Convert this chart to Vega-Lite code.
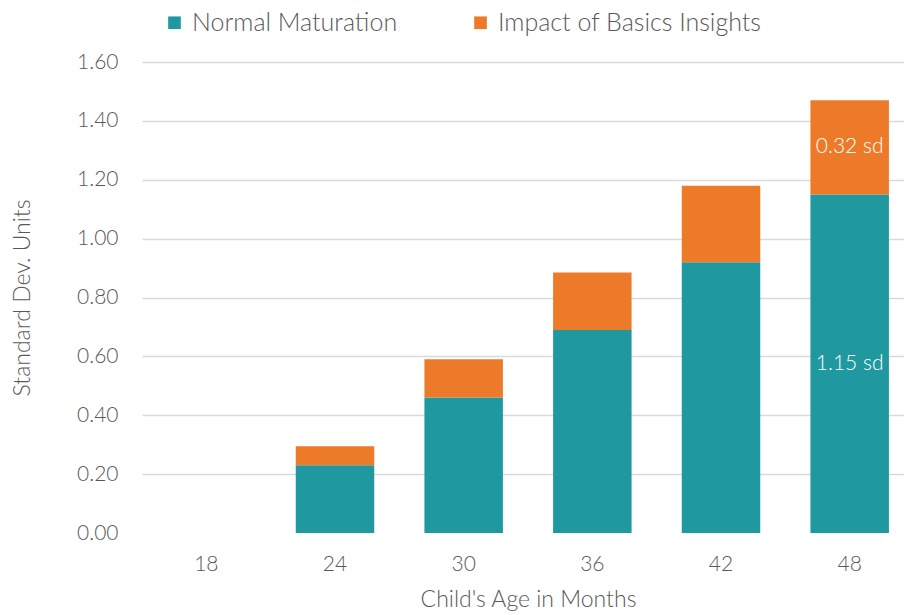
{
  "$schema": "https://vega.github.io/schema/vega-lite/v6.json",
  "autosize": "none",
  "width": 772,
  "height": 471,
  "padding": {"left": 142, "top": 62, "right": 0, "bottom": 82},
  "background": "white",
  "config": {
    "view": {"stroke": null},
    "font": "Lato",
    "axis": {"labelColor": "#595959", "titleColor": "#595959", "labelFont": "Lato", "titleFont": "Lato", "titleFontWeight": 300, "labelFontWeight": 300},
    "legend": {"labelColor": "#595959", "labelFont": "Lato", "labelFontWeight": 300}
  },
  "data": {
    "values": [
      {"age": "24", "series": "Normal Maturation", "value": 0.23, "label": ""},
      {"age": "24", "series": "Impact of Basics Insights", "value": 0.065, "label": ""},
      {"age": "30", "series": "Normal Maturation", "value": 0.46, "label": ""},
      {"age": "30", "series": "Impact of Basics Insights", "value": 0.13, "label": ""},
      {"age": "36", "series": "Normal Maturation", "value": 0.69, "label": ""},
      {"age": "36", "series": "Impact of Basics Insights", "value": 0.195, "label": ""},
      {"age": "42", "series": "Normal Maturation", "value": 0.92, "label": ""},
      {"age": "42", "series": "Impact of Basics Insights", "value": 0.26, "label": ""},
      {"age": "48", "series": "Normal Maturation", "value": 1.15, "label": "1.15 sd"},
      {"age": "48", "series": "Impact of Basics Insights", "value": 0.32, "label": "0.32 sd"}
    ]
  },
  "transform": [
    {"stack": "value", "groupby": ["age"], "sort": [{"field": "series", "order": "descending"}], "as": ["v0", "v1"]},
    {"calculate": "(datum.v0 + datum.v1) / 2", "as": "mid"}
  ],
  "encoding": {
    "x": {
      "field": "age",
      "type": "ordinal",
      "scale": {"domain": ["18", "24", "30", "36", "42", "48"], "paddingInner": 0.39, "paddingOuter": 0.195},
      "axis": {"title": "Child's Age in Months", "labelAngle": 0, "labelFontSize": 21, "titleFontSize": 23, "labelPadding": 20, "titlePadding": 14, "domain": false, "ticks": false}
    }
  },
  "layer": [
    {
      "mark": {"type": "bar"},
      "encoding": {
        "y": {
          "field": "v0",
          "type": "quantitative",
          "scale": {"domain": [0, 1.6]},
          "axis": {
            "title": "Standard Dev. Units",
            "values": [0, 0.2, 0.4, 0.6, 0.8, 1.0, 1.2, 1.4, 1.6],
            "format": ".2f",
            "labelFontSize": 21,
            "titleFontSize": 23,
            "labelPadding": 24,
            "titlePadding": 42,
            "domain": false,
            "ticks": false,
            "gridColor": {"condition": {"test": "datum.value === 0", "value": "transparent"}, "value": "#d9d9d9"},
            "gridWidth": 1.5
          }
        },
        "y2": {"field": "v1"},
        "color": {
          "field": "series",
          "type": "nominal",
          "scale": {"domain": ["Normal Maturation", "Impact of Basics Insights"], "range": ["#1f989f", "#ec7a28"]},
          "legend": {
            "title": null,
            "orient": "none",
            "direction": "horizontal",
            "legendX": 20,
            "legendY": -52,
            "symbolType": "square",
            "symbolSize": 160,
            "symbolStrokeWidth": 0,
            "labelFontSize": 25,
            "labelOffset": 5,
            "labelLimit": 0,
            "columnPadding": 70
          }
        }
      }
    },
    {
      "mark": {"type": "text", "color": "white", "fontSize": 21, "fontWeight": 300, "baseline": "middle", "align": "center"},
      "encoding": {
        "y": {"field": "mid", "type": "quantitative"},
        "text": {"field": "label"}
      }
    }
  ]
}
